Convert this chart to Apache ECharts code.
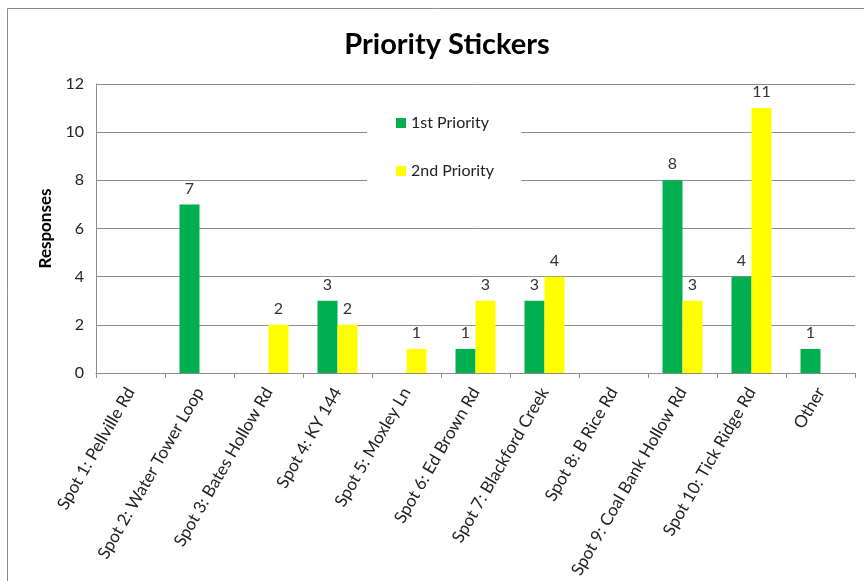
<!DOCTYPE html>
<html><head><meta charset="utf-8">
<script src="https://cdn.jsdelivr.net/npm/echarts@6/dist/echarts.min.js"></script>
<style>html,body{margin:0;padding:0;background:#fff}#c{width:864px;height:581px}</style>
</head><body><div id="c"></div>
<script>
const categories = ["Spot 1: Pellville Rd","Spot 2: Water Tower Loop","Spot 3: Bates Hollow Rd","Spot 4: KY 144","Spot 5: Moxley Ln","Spot 6: Ed Brown Rd","Spot 7: Blackford Creek","Spot 8: B Rice Rd","Spot 9: Coal Bank Hollow Rd","Spot 10: Tick Ridge Rd","Other"];
const firstPriority = [0,7,0,3,0,1,3,0,8,4,1];
const secondPriority = [0,0,2,2,1,3,4,0,3,11,0];
const yTicks = [0,2,4,6,8,10,12];

const FONT = "Lato";
const chart = echarts.init(document.getElementById('c'));
const lbl = {show:true, position:'top', distance:8, fontFamily:FONT, fontSize:16, color:'#333',
  formatter: p => p.value > 0 ? String(p.value) : ''};
chart.setOption({
  animation:false,
  textStyle:{fontFamily:FONT},
  graphic:[{type:'rect', shape:{x:7.5,y:8.5,width:900,height:700}, style:{fill:'none', stroke:'#8c8c8c', lineWidth:1}, z:-10}],
  title:{text:'Priority Stickers', left:442, top:25, textAlign:'center',
    textStyle:{fontFamily:FONT, fontSize:29, fontWeight:'bold', color:'#000'}},
  legend:{orient:'vertical', left:367, top:100, padding:[15,27,15,29], backgroundColor:'#fff',
    itemWidth:10, itemHeight:10, itemGap:32, icon:'rect', z:5,
    textStyle:{fontFamily:FONT, fontSize:16, color:'#222', lineHeight:16}},
  grid:{left:96, right:9, top:84, bottom:208, containLabel:false},
  xAxis:{type:'category', data:categories,
    axisLine:{lineStyle:{color:'#8c8c8c'}},
    axisTick:{show:true, alignWithLabel:false, length:5, lineStyle:{color:'#8c8c8c'}},
    axisLabel:{rotate:60, interval:0, margin:16, fontFamily:FONT, fontSize:17, color:'#222'}},
  yAxis:{type:'value', min:0, max:12, interval:2,
    name:'Responses', nameLocation:'middle', nameGap:42, nameRotate:90,
    nameTextStyle:{fontFamily:FONT, fontSize:17, fontWeight:'bold', color:'#000'},
    axisLine:{show:true, lineStyle:{color:'#8c8c8c'}},
    axisTick:{show:false},
    splitLine:{lineStyle:{color:'#8c8c8c'}},
    axisLabel:{fontFamily:FONT, fontSize:16, color:'#222', margin:12,
      formatter: v => yTicks.includes(v) ? String(v) : ''}},
  series:[
    {name:'1st Priority', type:'bar', data:firstPriority, itemStyle:{color:'#00B050'},
      barWidth:20, barGap:'0%', label:lbl},
    {name:'2nd Priority', type:'bar', data:secondPriority, itemStyle:{color:'#FFFF00'},
      barWidth:20, barGap:'0%', label:lbl}
  ]
});
</script></body></html>
